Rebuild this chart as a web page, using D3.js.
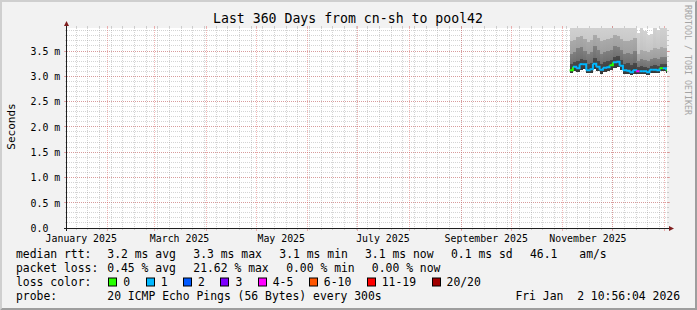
<!DOCTYPE html>
<html>
<head>
<meta charset="utf-8">
<script src="https://cdn.jsdelivr.net/npm/d3@7"></script>
<style>
  html, body { margin: 0; padding: 0; background: #f2f2f2; }
  svg { display: block; }
  text { font-family: "DejaVu Sans Mono", monospace; white-space: pre; }
</style>
</head>
<body>
<div id="chart"></div>
<script>
// ---- data ----
var title = "Last 360 Days from cn-sh to pool42";
var endTime = "2026-01-02 10:56:04";

var sampleDates = ["2025-11-05", "2025-11-07", "2025-11-09", "2025-11-11", "2025-11-13",
  "2025-11-15", "2025-11-17", "2025-11-19", "2025-11-21", "2025-11-23",
  "2025-11-25", "2025-11-27", "2025-11-29", "2025-12-01", "2025-12-03",
  "2025-12-05", "2025-12-07", "2025-12-09", "2025-12-11", "2025-12-13",
  "2025-12-15", "2025-12-17", "2025-12-19", "2025-12-21", "2025-12-23",
  "2025-12-25", "2025-12-27", "2025-12-29", "2025-12-31", "2026-01-02"];

// milliseconds
var medianRtt = [3.12, 3.19, 3.16, 3.24, 3.24, 3.12, 3.14, 3.25, 3.19, 3.13,
  3.17, 3.18, 3.22, 3.28, 3.29, 3.21, 3.12, 3.11, 3.08, 3.12,
  3.10, 3.10, 3.10, 3.08, 3.13, 3.13, 3.12, 3.16, 3.16, 3.12];
var rttMin = [3.06, 3.10, 3.08, 3.13, 3.14, 3.06, 3.07, 3.14, 3.10, 3.05,
  3.08, 3.10, 3.12, 3.16, 3.18, 3.12, 3.05, 3.04, 3.03, 3.05,
  3.05, 3.05, 3.05, 3.03, 3.07, 3.07, 3.06, 3.10, 3.10, 3.07];
var rttP60 = [3.24, 3.28, 3.30, 3.34, 3.32, 3.24, 3.26, 3.36, 3.30, 3.24,
  3.28, 3.30, 3.32, 3.38, 3.40, 3.33, 3.25, 3.26, 3.22, 3.26,
  3.18, 3.20, 3.19, 3.17, 3.21, 3.22, 3.20, 3.24, 3.24, 3.20];
var rttP75 = [3.45, 3.48, 3.55, 3.58, 3.50, 3.44, 3.48, 3.60, 3.52, 3.44,
  3.48, 3.50, 3.52, 3.60, 3.58, 3.52, 3.45, 3.46, 3.44, 3.50,
  3.30, 3.34, 3.32, 3.30, 3.34, 3.36, 3.34, 3.38, 3.38, 3.34];
var rttP90 = [3.70, 3.72, 3.78, 3.80, 3.74, 3.68, 3.72, 3.82, 3.76, 3.70,
  3.72, 3.74, 3.76, 3.82, 3.80, 3.74, 3.70, 3.70, 3.72, 3.76,
  3.45, 3.52, 3.50, 3.48, 3.52, 3.55, 3.54, 3.58, 3.56, 3.52];
var rttMax = [4.00, 4.00, 4.00, 4.00, 4.00, 4.00, 4.00, 4.00, 4.00, 4.00,
  4.00, 4.00, 4.00, 4.00, 4.00, 4.00, 4.00, 4.00, 4.00, 4.00,
  3.85, 3.98, 3.90, 3.82, 3.84, 4.00, 3.92, 4.00, 4.00, 3.93];
// lost pings out of 20 (average per sample)
var lostPings = [0, 0.1, 0.1, 0.1, 0.1, 0.1, 0.1, 0.1, 0.1, 0.1,
  0.1, 0.1, 0, 0.1, 0.1, 0.1, 0.1, 0.1, 0.1, 0.1,
  4.3, 0.1, 0.1, 0.1, 0.1, 0.1, 0.1, 0, 0.1, 0];

var lossLabels = ["0", "1", "2", "3", "4-5", "6-10", "11-19", "20/20"];
var lossUpper = [0, 1, 2, 3, 5, 10, 19, 20];
var lossColors = ["#26ff00", "#00b8ff", "#0059ff", "#7e00ff", "#ff00ff", "#ff5500", "#ff0000", "#a10000"];

var rttLegend = ["3.2 ms avg", "3.3 ms max", "3.1 ms min", "3.1 ms now", "0.1 ms sd", "46.1", "am/s"];
var lossLegend = ["0.45 % avg", "21.62 % max", " 0.00 % min", " 0.00 % now"];
var probeText = "20 ICMP Echo Pings (56 Bytes) every 300s";
var stampText = "Fri Jan  2 10:56:04 2026";

// ---- layout ----
var W = 697, H = 310;
var X0 = 67, X1 = 667, Y0 = 228, Y1 = 28;
var yMax = 3.955;

var parseDay = d3.utcParse("%Y-%m-%d");
var parseEnd = d3.utcParse("%Y-%m-%d %H:%M:%S");
var end = parseEnd(endTime);
var start = d3.utcDay.offset(end, -360);

var x = d3.scaleUtc().domain([start, end]).range([X0, X1]);
var y = d3.scaleLinear().domain([0, yMax]).range([Y0, Y1]);

var samples = sampleDates.map(function (s, i) {
  var t0 = parseDay(s);
  var t1 = d3.utcDay.offset(t0, 2);
  if (t1 > end) t1 = end;
  return { t0: t0, t1: t1, med: medianRtt[i], min: rttMin[i], p60: rttP60[i],
    p75: rttP75[i], p90: rttP90[i], max: rttMax[i], loss: lostPings[i] };
});

function lossColor(l) {
  for (var k = 0; k < lossUpper.length; k++) if (l <= lossUpper[k]) return lossColors[k];
  return lossColors[lossColors.length - 1];
}

var svg = d3.select("#chart").append("svg")
  .attr("width", W).attr("height", H);

svg.append("rect").attr("width", W).attr("height", H).attr("fill", "#f2f2f2");

// 3d frame
svg.append("path")
  .attr("d", "M0," + H + "L2," + (H - 2) + "L2,2L" + (W - 2) + ",2L" + W + ",0L0,0Z")
  .attr("fill", "#cfcfcf");
svg.append("path")
  .attr("d", "M2," + (H - 2) + "L" + (W - 2) + "," + (H - 2) + "L" + (W - 2) + ",2L" + W + ",0L" + W + "," + H + "L0," + H + "Z")
  .attr("fill", "#9e9e9e");

// canvas
svg.append("rect")
  .attr("x", X0).attr("y", Y1).attr("width", X1 - X0).attr("height", Y0 - Y1)
  .attr("fill", "#ffffff");

var defs = svg.append("defs");
defs.append("clipPath").attr("id", "canvas-clip")
  .append("rect").attr("x", X0).attr("y", Y1).attr("width", X1 - X0).attr("height", Y0 - Y1);

var gridMinor = "rgba(143,143,143,0.38)";
var gridMajor = "rgba(222,79,79,0.42)";
var snap = function (v) { return Math.floor(v) + 0.5; };

// horizontal grid
var yMinor = y.ticks(40).filter(function (v) { return v > 0; });
var yMajor = y.ticks(8);
var hg = svg.append("g").attr("shape-rendering", "crispEdges");
yMinor.forEach(function (v) {
  var yy = snap(y(v));
  hg.append("line").attr("x1", X0 - 2).attr("x2", X0).attr("y1", yy).attr("y2", yy).attr("stroke", gridMinor);
  hg.append("line").attr("x1", X1).attr("x2", X1 + 2).attr("y1", yy).attr("y2", yy).attr("stroke", gridMinor);
  hg.append("line").attr("x1", X0).attr("x2", X1).attr("y1", yy).attr("y2", yy)
    .attr("stroke", gridMinor).attr("stroke-dasharray", "1,1");
});

// vertical grid
var xMinor = d3.utcMonday.range(start, end);
var xMajor = d3.utcMonth.range(start, end);
var vg = svg.append("g").attr("shape-rendering", "crispEdges");
xMinor.forEach(function (d) {
  var xx = snap(x(d));
  vg.append("line").attr("x1", xx).attr("x2", xx).attr("y1", Y1 - 2).attr("y2", Y1).attr("stroke", gridMinor);
  vg.append("line").attr("x1", xx).attr("x2", xx).attr("y1", Y0).attr("y2", Y0 + 2).attr("stroke", gridMinor);
  vg.append("line").attr("x1", xx).attr("x2", xx).attr("y1", Y1).attr("y2", Y0)
    .attr("stroke", gridMinor).attr("stroke-dasharray", "1,1");
});
xMajor.forEach(function (d) {
  var xx = snap(x(d));
  vg.append("line").attr("x1", xx).attr("x2", xx).attr("y1", Y1 - 2).attr("y2", Y1).attr("stroke", gridMajor);
  vg.append("line").attr("x1", xx).attr("x2", xx).attr("y1", Y0).attr("y2", Y0 + 3).attr("stroke", gridMajor);
  vg.append("line").attr("x1", xx).attr("x2", xx).attr("y1", Y1).attr("y2", Y0)
    .attr("stroke", gridMajor).attr("stroke-dasharray", "1,1");
});
yMajor.filter(function (v) { return v > 0; }).forEach(function (v) {
  var yy = snap(y(v));
  hg.append("line").attr("x1", X0 - 3).attr("x2", X0).attr("y1", yy).attr("y2", yy).attr("stroke", gridMajor);
  hg.append("line").attr("x1", X1).attr("x2", X1 + 3).attr("y1", yy).attr("y2", yy).attr("stroke", gridMajor);
  hg.append("line").attr("x1", X0).attr("x2", X1).attr("y1", yy).attr("y2", yy)
    .attr("stroke", gridMajor).attr("stroke-dasharray", "1,1");
});

// smoke: nested bands, each a little lighter at its top
var bands = [
  { lo: "min", hi: "max", top: "#d2d2d2", bottom: "#b4b4b4" },
  { lo: "min", hi: "p90", top: "#aaaaaa", bottom: "#8e8e8e" },
  { lo: "min", hi: "p75", top: "#808080", bottom: "#606060" },
  { lo: "min", hi: "p60", top: "#4a4a4a", bottom: "#383838" }
];
bands.forEach(function (b, k) {
  var g = defs.append("linearGradient").attr("id", "smoke" + k)
    .attr("x1", 0).attr("y1", 0).attr("x2", 0).attr("y2", 1);
  g.append("stop").attr("offset", "0").attr("stop-color", b.top);
  g.append("stop").attr("offset", "1").attr("stop-color", b.bottom);
});

var plot = svg.append("g").attr("clip-path", "url(#canvas-clip)");
bands.forEach(function (b, k) {
  plot.append("g").attr("shape-rendering", "crispEdges")
    .selectAll("rect").data(samples).enter().append("rect")
    .attr("x", function (d) { return x(d.t0); })
    .attr("width", function (d) { return x(d.t1) - x(d.t0) + 0.3; })
    .attr("y", function (d) { return y(d[b.hi]); })
    .attr("height", function (d) { return y(d[b.lo]) - y(d[b.hi]); })
    .attr("fill", "url(#smoke" + k + ")");
});

// median line, coloured by loss
var medLine = d3.line().x(function (p) { return x(p[0]); }).y(function (p) { return y(p[1]); });
samples.forEach(function (d, i) {
  var pts = [[d.t0, d.med], [d.t1, d.med]];
  if (i < samples.length - 1) pts.push([d.t1, samples[i + 1].med]);
  plot.append("path")
    .attr("d", medLine(pts))
    .attr("fill", "none")
    .attr("stroke", lossColor(d.loss))
    .attr("stroke-width", 2);
});

// axes
var axisCol = "#1f1f1f", arrowCol = "#801f1f";
svg.append("line").attr("x1", X0 - 3).attr("x2", X1 + 4).attr("y1", Y0 + 0.5).attr("y2", Y0 + 0.5)
  .attr("stroke", axisCol);
svg.append("line").attr("x1", X0 - 0.5).attr("x2", X0 - 0.5).attr("y1", Y0 + 3).attr("y2", Y1 - 4)
  .attr("stroke", axisCol);
svg.append("path").attr("d", "M" + (X1 + 2) + "," + (Y0 - 2) + "L" + (X1 + 7) + "," + (Y0 + 0.5) + "L" + (X1 + 2) + "," + (Y0 + 3) + "Z")
  .attr("fill", arrowCol);
svg.append("path").attr("d", "M" + (X0 - 3) + "," + (Y1 - 2) + "L" + (X0 - 0.5) + "," + (Y1 - 7) + "L" + (X0 + 2) + "," + (Y1 - 2) + "Z")
  .attr("fill", arrowCol);

// y labels
svg.append("g").selectAll("text").data(yMajor).enter().append("text")
  .attr("x", 30.5)
  .attr("y", function (v) { return y(v) + 3.8; })
  .attr("font-size", "9.9px")
  .attr("fill", "#000")
  .text(function (v) { return v === 0 ? "0.0" : d3.format(".1f")(v) + " m"; });

// x labels (centred in the labelled month, only those inside the canvas)
var labelMonths = d3.utcMonth.every(2).range(d3.utcMonth.floor(start), end)
  .filter(function (d) { return x(d3.utcDay.offset(d, 15)) < X1; });
svg.append("g").selectAll("text").data(labelMonths).enter().append("text")
  .attr("x", function (d) { return x(d3.utcDay.offset(d, 15)); })
  .attr("y", 241.5)
  .attr("text-anchor", "middle")
  .attr("font-size", "9.9px")
  .attr("fill", "#000")
  .text(d3.utcFormat("%B %Y"));

// title
svg.append("text").attr("x", 348).attr("y", 23).attr("text-anchor", "middle")
  .attr("font-size", "13.2px").attr("fill", "#000").text(title);

// unit label
svg.append("text").attr("transform", "translate(15,126.5) rotate(-90)")
  .attr("text-anchor", "middle").attr("font-size", "11px").attr("fill", "#000").text("Seconds");

// watermark
svg.append("text").attr("transform", "translate(684.5,5) rotate(90)")
  .attr("font-size", "8.3px").attr("fill", "#a4a4a4").text("RRDTOOL / TOBI OETIKER");

// legend
var lf = "11.4px";
var rowY = [258.3, 272.3, 286.3, 300.3];
var colX = [107.3, 193.3, 279.3, 365, 451, 530, 579.3];
var leg = svg.append("g").attr("font-size", lf).attr("fill", "#000");
leg.append("text").attr("x", 16).attr("y", rowY[0]).text("median rtt:");
rttLegend.forEach(function (s, i) { leg.append("text").attr("x", colX[i]).attr("y", rowY[0]).text(s); });
leg.append("text").attr("x", 16).attr("y", rowY[1]).text("packet loss:");
lossLegend.forEach(function (s, i) { leg.append("text").attr("x", colX[i]).attr("y", rowY[1]).text(s); });
leg.append("text").attr("x", 16).attr("y", rowY[2]).text("loss color:");
var bx = 108.3;
lossLabels.forEach(function (s, i) {
  leg.append("rect").attr("x", Math.round(bx) + 0.5).attr("y", rowY[2] - 8.3).attr("width", 8).attr("height", 8)
    .attr("fill", lossColors[i]).attr("stroke", "#000").attr("stroke-width", 1);
  var t = leg.append("text").attr("x", bx + 15).attr("y", rowY[2]).text(s);
  bx += 15 + t.node().getComputedTextLength() + 15.5;
});
leg.append("text").attr("x", 16).attr("y", rowY[3]).text("probe:");
leg.append("text").attr("x", colX[0]).attr("y", rowY[3]).text(probeText);
leg.append("text").attr("x", 680).attr("y", rowY[3]).attr("text-anchor", "end").text(stampText);
</script>
</body>
</html>
